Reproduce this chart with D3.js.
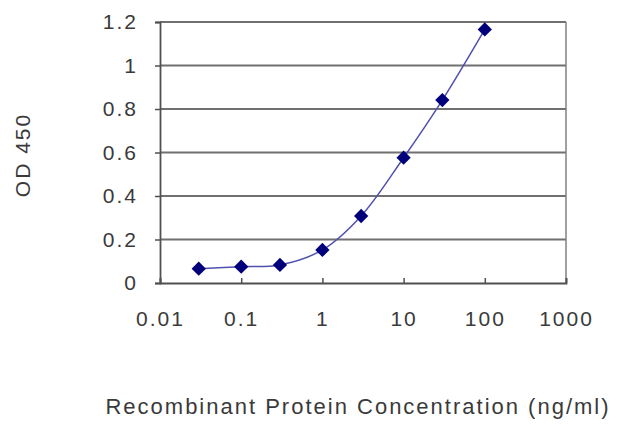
<!DOCTYPE html>
<html lang="en">
<head>
    <meta charset="UTF-8" />
    <title>OD 450 curve</title>
    <script src="https://d3js.org/d3.v7.min.js"></script>
    <style>
        body { margin: 0; background: #fff; }
        text { font-family: "Liberation Sans", Arial, sans-serif; fill: #3a3a3a; }
    </style>
</head>
<body>
    <div id="chart"></div>
    <script>
        var w = 640;
        var h = 427;

        // concentration (ng/ml) and measured OD 450
        var concentrations = [0.03, 0.1, 0.3, 1, 3, 10, 30, 100];
        var odValues = [0.066, 0.075, 0.083, 0.152, 0.308, 0.576, 0.841, 1.166];
        var xTicks = [0.01, 0.1, 1, 10, 100, 1000];
        var yTicks = [0, 0.2, 0.4, 0.6, 0.8, 1, 1.2];

        var plotLeft = 160, plotRight = 566, plotTop = 22, plotBottom = 283;

        var svg = d3.select("#chart")
            .append("svg")
            .attr("width", w)
            .attr("height", h);

        var xScale = d3.scaleLog()
            .domain([0.01, 1000])
            .range([plotLeft, plotRight]);

        var yScale = d3.scaleLinear()
            .domain([0, 1.2])
            .range([plotBottom, plotTop]);

        // horizontal grid lines
        svg.append("g")
            .selectAll("line")
            .data(yTicks.slice(1))
            .enter()
            .append("line")
            .attr("x1", plotLeft)
            .attr("x2", plotRight)
            .attr("y1", function (d) { return yScale(d); })
            .attr("y2", function (d) { return yScale(d); })
            .attr("stroke", "#707070")
            .attr("stroke-width", 2);

        // right border
        svg.append("line")
            .attr("x1", plotRight).attr("x2", plotRight)
            .attr("y1", plotTop).attr("y2", plotBottom)
            .attr("stroke", "#808080")
            .attr("stroke-width", 1.5);

        var yAxis = d3.axisLeft(yScale)
            .tickValues(yTicks)
            .tickSize(5)
            .tickPadding(17)
            .tickFormat(function (d) { return d3.format("")(d); });

        var gy = svg.append("g")
            .attr("transform", "translate(" + plotLeft + ",0)")
            .call(yAxis);

        var xAxis = d3.axisBottom(xScale)
            .tickValues(xTicks)
            .tickSize(-5)
            .tickPadding(28)
            .tickFormat(function (d) { return String(d); });

        var gx = svg.append("g")
            .attr("transform", "translate(0," + plotBottom + ")")
            .call(xAxis);

        [gx, gy].forEach(function (g) {
            g.selectAll(".domain").attr("stroke", "#505050").attr("stroke-width", 1.8);
            g.selectAll(".tick line").attr("stroke", "#505050").attr("stroke-width", 1.5);
            g.selectAll("text")
                .style("font-size", "21px")
                .style("letter-spacing", "2px")
                .attr("fill", "#444");
        });

        // smoothed curve
        var points = concentrations.map(function (c, i) { return [c, odValues[i]]; });

        var line = d3.line()
            .x(function (d) { return xScale(d[0]); })
            .y(function (d) { return yScale(d[1]); })
            .curve(d3.curveCatmullRom.alpha(0.5));

        svg.append("path")
            .datum(points)
            .attr("fill", "none")
            .attr("stroke", "#5050b0")
            .attr("stroke-width", 1.5)
            .attr("d", line);

        svg.append("g")
            .selectAll("path")
            .data(points)
            .enter()
            .append("path")
            .attr("d", d3.symbol().type(d3.symbolDiamond2).size(130))
            .attr("transform", function (d) {
                return "translate(" + xScale(d[0]) + "," + yScale(d[1]) + ")";
            })
            .attr("fill", "#00007a");

        // axis titles
        svg.append("text")
            .attr("x", 358)
            .attr("y", 414)
            .attr("text-anchor", "middle")
            .style("font-size", "22px")
            .style("letter-spacing", "2px")
            .attr("fill", "#444")
            .text("Recombinant Protein Concentration (ng/ml)");

        svg.append("text")
            .attr("transform", "translate(30,155) rotate(-90)")
            .attr("text-anchor", "middle")
            .style("font-size", "21px")
            .style("letter-spacing", "2px")
            .attr("fill", "#444")
            .text("OD 450");
    </script>
</body>
</html>
